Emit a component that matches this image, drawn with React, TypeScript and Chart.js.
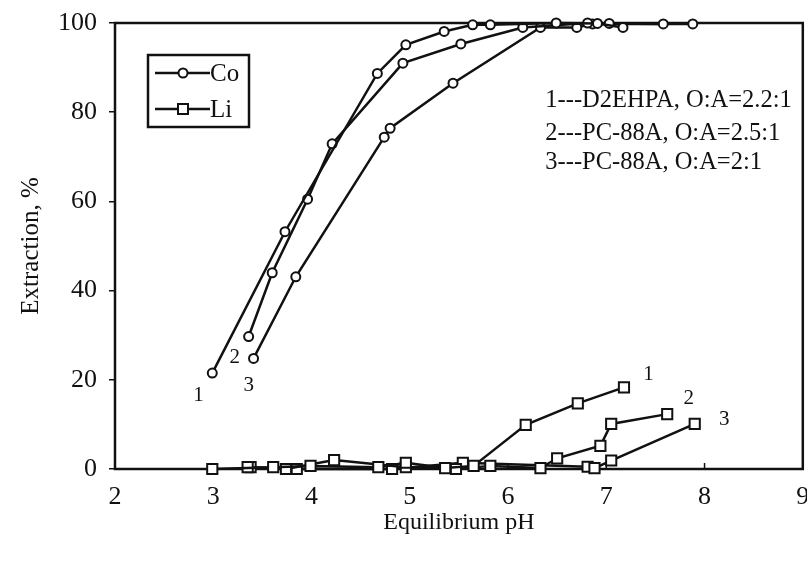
import React, { useEffect, useRef } from "react";
import { Chart, registerables } from "chart.js";
Chart.register(...registerables);

// Co extraction curves (circles)
const co1pH = [2.99, 3.73, 4.67, 4.96, 5.35, 5.64, 5.82, 6.49, 6.91, 7.17];
const co1Ext = [21.5, 53.2, 88.7, 95.1, 98.1, 99.6, 99.6, 100, 99.9, 99.0];
const co2pH = [3.36, 3.6, 3.96, 4.21, 4.93, 5.52, 6.15, 6.81, 7.03, 7.58];
const co2Ext = [29.7, 44.0, 60.5, 72.9, 91.0, 95.3, 99.0, 100, 99.9, 99.8];
const co3pH = [3.41, 3.84, 4.74, 4.8, 5.44, 6.33, 6.7, 6.86, 7.88];
const co3Ext = [24.8, 43.1, 74.4, 76.4, 86.5, 99.0, 99.0, 99.8, 99.8];

// Li extraction curves (squares)
const li1pH = [2.99, 3.61, 3.99, 4.68, 4.96, 5.36, 5.65, 6.18, 6.71, 7.18];
const li1Ext = [0, 0.4, 0.7, 0.4, 1.4, 0.2, 0.7, 9.9, 14.7, 18.3];
const li2pH = [3.35, 3.74, 4.23, 4.96, 5.47, 5.82, 6.33, 6.5, 6.94, 7.05, 7.62];
const li2Ext = [0.4, 0, 2.0, 0.4, 0, 0.7, 0.2, 2.4, 5.2, 10.1, 12.3];
const li3pH = [3.38, 3.85, 4.82, 5.54, 6.81, 6.88, 7.05, 7.9];
const li3Ext = [0.4, 0, 0, 1.4, 0.5, 0.2, 1.9, 10.1];

// Axis ticks and titles
const xTicks = [2, 3, 4, 5, 6, 7, 8, 9];
const yTicks = [0, 20, 40, 60, 80, 100];
const xTitle = "Equilibrium pH";
const yTitle = "Extraction, %";

// Curve number labels (data coordinates)
const curveLabelText = ["1", "2", "3", "1", "2", "3"];
const curveLabelPH = [2.85, 3.22, 3.36, 7.43, 7.84, 8.2];
const curveLabelExt = [16.4, 25.1, 18.8, 21.1, 15.9, 11.2];

// Note block
const noteLines = ["1---D2EHPA, O:A=2.2:1", "2---PC-88A, O:A=2.5:1", "3---PC-88A, O:A=2:1"];
const notePH = 6.38;
const noteExt = [82.7, 75.3, 68.6];

// Legend
const legendLabels = ["Co", "Li"];

const FONT = '"Liberation Serif", "Times New Roman", serif';
const INK = "#111";

function toXY(xs: number[], ys: number[]) {
  return xs.map((x, i) => ({ x, y: ys[i] }));
}

export default function App() {
  const ref = useRef<HTMLCanvasElement | null>(null);

  useEffect(() => {
    document.body.style.margin = "0";
    const canvas = ref.current;
    if (!canvas) return;

    const circle = {
      pointStyle: "circle" as const,
      pointRadius: 4.5,
      pointBorderWidth: 2,
      pointBackgroundColor: "#fff",
      pointBorderColor: INK,
    };
    const square = {
      pointStyle: "rect" as const,
      pointRadius: 7.2,
      pointBorderWidth: 2,
      pointBackgroundColor: "#fff",
      pointBorderColor: INK,
    };
    const line = {
      borderColor: INK,
      borderWidth: 2.5,
      tension: 0,
      showLine: true,
      clip: false as const,
    };

    const decor = {
      id: "decor",
      beforeDatasetsDraw(chart: any) {
        const { ctx, chartArea: a } = chart;
        ctx.save();
        ctx.strokeStyle = INK;
        ctx.lineWidth = 2.5;
        ctx.strokeRect(a.left, a.top, a.right - a.left, a.bottom - a.top);
        // inward x ticks
        const xs = chart.scales.x;
        ctx.lineWidth = 1.5;
        xTicks.forEach((t) => {
          if (t === xTicks[0] || t === xTicks[xTicks.length - 1]) return;
          const px = xs.getPixelForValue(t);
          ctx.beginPath();
          ctx.moveTo(px, a.bottom);
          ctx.lineTo(px, a.bottom - 6);
          ctx.stroke();
        });
        ctx.restore();
      },
      afterDatasetsDraw(chart: any) {
        const { ctx, chartArea: a } = chart;
        const xs = chart.scales.x;
        const ys = chart.scales.y;
        ctx.save();
        ctx.fillStyle = INK;
        // curve numbers
        ctx.font = `21px ${FONT}`;
        ctx.textAlign = "center";
        ctx.textBaseline = "middle";
        curveLabelText.forEach((t, i) => {
          ctx.fillText(t, xs.getPixelForValue(curveLabelPH[i]), ys.getPixelForValue(curveLabelExt[i]));
        });
        // notes
        ctx.font = `24.5px ${FONT}`;
        ctx.textAlign = "left";
        noteLines.forEach((t, i) => {
          ctx.fillText(t, xs.getPixelForValue(notePH), ys.getPixelForValue(noteExt[i]));
        });
        // legend box
        const bx = a.left + 33;
        const by = a.top + 32;
        const bw = 101;
        const bh = 72;
        ctx.strokeStyle = INK;
        ctx.lineWidth = 2.5;
        ctx.strokeRect(bx, by, bw, bh);
        ctx.font = `25px ${FONT}`;
        legendLabels.forEach((lab, i) => {
          const cy = by + 18 + i * 36;
          ctx.lineWidth = 2.5;
          ctx.beginPath();
          ctx.moveTo(bx + 7, cy);
          ctx.lineTo(bx + 62, cy);
          ctx.stroke();
          ctx.lineWidth = 2;
          ctx.fillStyle = "#fff";
          ctx.beginPath();
          if (i === 0) {
            ctx.arc(bx + 35, cy, 4.5, 0, Math.PI * 2);
          } else {
            ctx.rect(bx + 35 - 5, cy - 5, 10, 10);
          }
          ctx.fill();
          ctx.stroke();
          ctx.fillStyle = INK;
          ctx.fillText(lab, bx + 62, cy + 1);
        });
        ctx.restore();
      },
    };

    const chart = new Chart(canvas, {
      type: "scatter",
      data: {
        datasets: [
          { label: "Co 1", data: toXY(co1pH, co1Ext), ...line, ...circle },
          { label: "Co 2", data: toXY(co2pH, co2Ext), ...line, ...circle },
          { label: "Co 3", data: toXY(co3pH, co3Ext), ...line, ...circle },
          { label: "Li 1", data: toXY(li1pH, li1Ext), ...line, ...square },
          { label: "Li 2", data: toXY(li2pH, li2Ext), ...line, ...square },
          { label: "Li 3", data: toXY(li3pH, li3Ext), ...line, ...square },
        ] as any,
      },
      options: {
        animation: false,
        responsive: false,
        devicePixelRatio: 1,
        layout: { padding: { left: 0, right: 0, top: 23, bottom: 0 } },
        plugins: { legend: { display: false }, tooltip: { enabled: false } },
        scales: {
          x: {
            type: "linear",
            min: xTicks[0],
            max: xTicks[xTicks.length - 1],
            afterBuildTicks: (s: any) => {
              s.ticks = xTicks.map((v) => ({ value: v }));
            },
            afterFit: (s: any) => {
              s.height = 94;
              s.paddingLeft = 0;
              s.paddingRight = 0;
            },
            grid: { display: false, drawTicks: false },
            border: { display: false },
            ticks: { color: INK, font: { family: FONT, size: 26 }, padding: 13, maxRotation: 0, autoSkip: false },
            title: { display: true, text: xTitle, color: INK, font: { family: FONT, size: 24 }, padding: { top: 0, bottom: 26 } },
          },
          y: {
            type: "linear",
            min: yTicks[0],
            max: yTicks[yTicks.length - 1],
            afterBuildTicks: (s: any) => {
              s.ticks = yTicks.map((v) => ({ value: v }));
            },
            afterFit: (s: any) => {
              s.width = 115;
              s.paddingTop = 0;
              s.paddingBottom = 0;
            },
            grid: { display: true, drawOnChartArea: false, drawTicks: true, tickLength: 6, color: INK, lineWidth: 1.5 },
            border: { display: false },
            ticks: { color: INK, font: { family: FONT, size: 26 }, padding: 12, autoSkip: false },
            title: { display: true, text: yTitle, color: INK, font: { family: FONT, size: 25 }, padding: { top: 16, bottom: 0 } },
          },
        },
      },
      plugins: [decor],
    } as any);

    return () => chart.destroy();
  }, []);

  return (
    <div style={{ width: 807, height: 563, background: "#fff", overflow: "hidden" }}>
      <canvas ref={ref} width={812} height={563} style={{ display: "block" }} />
    </div>
  );
}
